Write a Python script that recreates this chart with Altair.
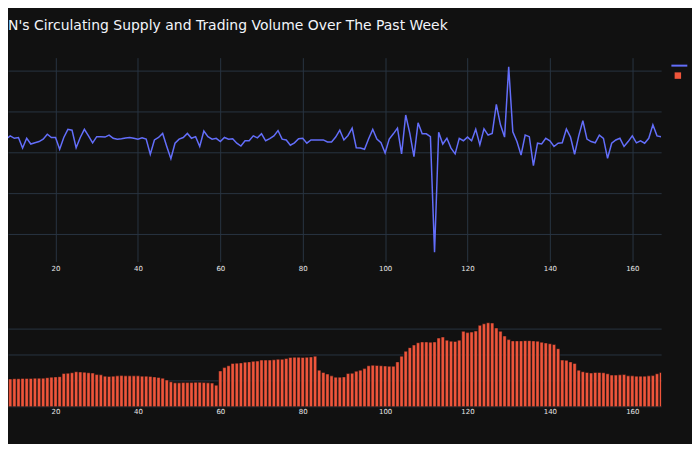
import altair as alt
import pandas as pd

TITLE = "N's Circulating Supply and Trading Volume Over The Past Week"
SERIES = ["Circulating Supply", "Trading Volume"]
COLORS = ["#636efa", "#EF553B"]

hours = list(range(168))

supply = [
    2.34, 2.30, 2.38, 2.33, 2.28, 2.36, 2.32,
    2.36, 2.32, 2.40,
    2.34, 2.36, 2.10, 2.34, 2.20, 2.23, 2.26, 2.32, 2.44, 2.36,
    2.36, 2.07, 2.36, 2.56, 2.54, 2.11, 2.36, 2.56, 2.40, 2.23,
    2.38, 2.38, 2.37, 2.42, 2.34, 2.32, 2.33, 2.35, 2.36, 2.34,
    2.32, 2.35, 2.32, 1.95, 2.30, 2.36, 2.46, 2.14, 1.84, 2.22,
    2.32, 2.36, 2.46, 2.34, 2.38, 2.14, 2.52, 2.38, 2.32, 2.34,
    2.26, 2.36, 2.32, 2.33, 2.22, 2.15, 2.28, 2.28, 2.40, 2.35,
    2.45, 2.28, 2.33, 2.40, 2.53, 2.32, 2.30, 2.17, 2.23, 2.33,
    2.34, 2.22, 2.30, 2.30, 2.30, 2.30, 2.25, 2.25, 2.37, 2.54,
    2.30, 2.41, 2.59, 2.11, 2.10, 2.07, 2.33, 2.56, 2.32, 2.23,
    1.98, 2.32, 2.45, 2.59, 1.96, 2.91, 2.46, 1.89, 2.72, 2.45,
    2.45, 2.38, -0.45, 2.49, 2.20, 2.34, 2.10, 1.96, 2.34, 2.28,
    2.37, 2.28, 2.56, 2.18, 2.57, 2.42, 2.46, 3.17, 2.67, 2.37,
    4.09, 2.50, 2.26, 1.93, 2.42, 2.38, 1.67, 2.22, 2.20, 2.34,
    2.28, 2.14, 2.22, 2.23, 2.57, 2.37, 1.95, 2.40, 2.77, 2.32,
    2.26, 2.23, 2.42, 2.34, 1.85, 2.22, 2.30, 2.34, 2.14, 2.26,
    2.40, 2.23, 2.28, 2.22, 2.34, 2.67, 2.40, 2.38,
]

volume = [
    10.2, 10.3, 10.3, 10.4, 10.4, 10.5, 10.5,
    10.5, 10.6, 10.7, 10.8, 10.8, 10.9, 10.9, 10.9, 11.0, 11.0, 11.0, 11.2, 11.4,
    11.5, 11.6, 12.8, 12.9, 13.1, 13.5, 13.4, 13.3, 13.1, 13.0,
    12.4, 12.3, 11.8, 11.7, 11.8, 11.9, 12.0, 11.9, 11.9, 11.9,
    11.9, 11.8, 11.8, 11.7, 11.5, 11.3, 11.0, 10.3, 9.6, 9.2,
    9.2, 9.3, 9.3, 9.3, 9.4, 9.4, 9.3, 9.2, 9.1, 8.3,
    13.8, 15.1, 15.8, 16.7, 16.8, 16.9, 17.2, 17.3, 17.5, 17.6,
    18.0, 18.0, 18.0, 18.1, 18.3, 18.3, 18.6, 19.0, 19.1, 19.1,
    19.0, 19.1, 19.2, 19.5, 14.1, 13.2, 12.6, 11.9, 11.4, 11.4,
    11.5, 12.8, 12.9, 13.7, 14.1, 14.7, 15.8, 16.0, 15.9, 15.8,
    15.7, 15.6, 15.6, 17.3, 19.5, 21.4, 22.8, 23.8, 24.7, 25.0,
    25.0, 24.9, 25.0, 26.5, 26.9, 25.7, 25.3, 25.2, 25.7, 29.1,
    28.6, 28.8, 29.2, 31.4, 32.0, 32.4, 32.3, 30.4, 29.1, 27.3,
    25.9, 25.4, 25.4, 25.4, 25.5, 25.5, 25.4, 25.3, 24.9, 24.6,
    24.3, 24.0, 22.4, 18.0, 17.9, 17.3, 16.7, 14.1, 13.5, 13.2,
    13.0, 13.2, 13.2, 13.1, 12.7, 12.2, 12.2, 12.3, 12.4, 11.9,
    11.9, 11.8, 11.8, 11.8, 11.9, 12.0, 12.7, 13.2,
]

x_ticks = [20, 40, 60, 80, 100, 120, 140, 160]

top_df = pd.DataFrame({"hour": hours, "value": supply, "series": SERIES[0]})
bot_df = pd.DataFrame({"hour": hours, "value": volume, "series": SERIES[1]})

x_scale = alt.Scale(domain=[8.46, 167], nice=False, zero=False)

line_legend = alt.Legend(
    orient="none", legendX=665, legendY=-1, title=None, labelExpr="''",
    symbolType="stroke", symbolSize=256, symbolStrokeWidth=2, symbolOpacity=1,
    padding=0, labelOffset=0, labelFontSize=1, labelLimit=1,
)
bar_legend = alt.Legend(
    orient="none", legendX=669, legendY=14.5, title=None, labelExpr="''",
    symbolType="square", symbolSize=42, symbolOpacity=1, symbolStrokeWidth=0,
    padding=0, labelOffset=0, labelFontSize=1, labelLimit=1,
)

line = alt.Chart(top_df).mark_line(strokeWidth=1.5, clip=True).encode(
    x=alt.X("hour:Q", scale=x_scale,
            axis=alt.Axis(values=x_ticks, grid=True, labelPadding=3.5, title=None)),
    y=alt.Y("value:Q", scale=alt.Scale(domain=[-0.676, 4.315], nice=False, zero=False),
            axis=alt.Axis(values=[0, 1, 2, 3, 4], labels=False, title=None)),
    color=alt.Color("series:N", scale=alt.Scale(domain=[SERIES[0]], range=[COLORS[0]]),
                    legend=line_legend),
)

# legend entry for the volume series (draws nothing in the top panel)
vol_key = alt.Chart(bot_df).transform_filter("false").mark_square(opacity=0).encode(
    x=alt.X("hour:Q", scale=x_scale),
    y=alt.Y("value:Q"),
    fill=alt.Fill("series:N", scale=alt.Scale(domain=[SERIES[1]], range=[COLORS[1]]),
                  legend=bar_legend),
)

top = alt.layer(line, vol_key).properties(width=655.7, height=204.6)

bottom = alt.Chart(bot_df).transform_calculate(
    x0="datum.hour - 0.4", x1="datum.hour + 0.4"
).mark_bar(color=COLORS[1], stroke="#111111", strokeWidth=0.5, clip=True).encode(
    x=alt.X("x0:Q", scale=x_scale,
            axis=alt.Axis(values=x_ticks, grid=False, labelPadding=1, title=None)),
    x2="x1:Q",
    y=alt.Y("value:Q", scale=alt.Scale(domain=[0, 34], nice=False),
            axis=alt.Axis(values=[0, 10, 20, 30], labels=False, title=None)),
    y2=alt.datum(0),
).properties(width=655.7, height=88.4)

chart = alt.vconcat(top, bottom, spacing=46).properties(
    title=alt.TitleParams(
        text=TITLE, anchor="start", font="DejaVu Sans", fontSize=14,
        fontWeight="normal", color="#f2f5fa", offset=23.5,
    ),
    padding={"left": 0, "top": 10, "right": 0, "bottom": 28},
    background="#111111",
).configure_view(stroke=None).configure_axis(
    gridColor="#283442", gridWidth=1, domain=False, ticks=False, tickSize=0,
    labelColor="#e6e6e6", labelFont="DejaVu Sans", labelFontSize=7,
)

chart.save("out.html", embed_options={"renderer": "svg", "actions": False})
